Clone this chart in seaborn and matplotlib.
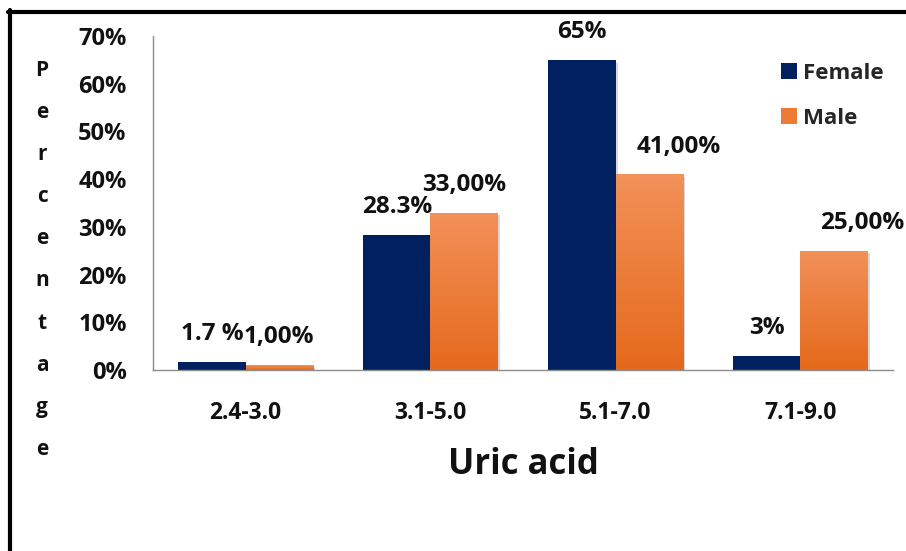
import numpy as np
import pandas as pd
import matplotlib
matplotlib.use("Agg")
import matplotlib.pyplot as plt
import matplotlib.patheffects as pe
from matplotlib.colors import LinearSegmentedColormap
from matplotlib.lines import Line2D
from matplotlib.patches import Patch
import seaborn as sns

# Uric acid ranges and the share of each sex falling in them (%)
categories = ["2.4-3.0", "3.1-5.0", "5.1-7.0", "7.1-9.0"]
female = [1.7, 28.3, 65, 3]
male = [1.0, 33.0, 41.0, 25.0]
female_labels = ["1.7 %", "28.3%", "65%", "3%"]
male_labels = ["1,00%", "33,00%", "41,00%", "25,00%"]
yticks = [0, 10, 20, 30, 40, 50, 60, 70]
series = ["Female", "Male"]

NAVY = "#002060"
ORANGE_TOP = "#F29159"
ORANGE_BOTTOM = "#E5691B"
FONT = "Open Sans"

sns.set_theme(style="white")
plt.rcParams["font.family"] = [FONT, "DejaVu Sans"]
plt.rcParams["font.weight"] = "bold"

df = pd.DataFrame({
    "range": categories * 2,
    "value": female + male,
    "sex": ["Female"] * len(categories) + ["Male"] * len(categories),
})

fig = plt.figure(figsize=(9.06, 5.51), dpi=100)
ax = fig.add_axes([153 / 906, 1 - 370 / 551, 740 / 906, 334 / 551])

sns.barplot(data=df, x="range", y="value", hue="sex", hue_order=series,
            palette=[NAVY, ORANGE_BOTTOM], width=0.725, saturation=1,
            errorbar=None, legend=False, ax=ax, zorder=2)

shadow = [pe.SimplePatchShadow(offset=(2, -2), shadow_rgbFace="#808080", alpha=0.3),
          pe.Normal()]
orange_cmap = LinearSegmentedColormap.from_list("male_grad", [ORANGE_BOTTOM, ORANGE_TOP])
grad = np.linspace(0, 1, 256).reshape(-1, 1)

female_bars, male_bars = ax.containers[0], ax.containers[1]
for bar in list(female_bars) + list(male_bars):
    bar.set_path_effects(shadow)
    bar.set_edgecolor("none")

# vertical light-to-dark gradient on the male bars
for bar in male_bars:
    x0, w, h = bar.get_x(), bar.get_width(), bar.get_height()
    im = ax.imshow(grad, extent=[x0, x0 + w, 0, h], origin="lower", aspect="auto",
                   cmap=orange_cmap, interpolation="bicubic", zorder=2.5)
    im.set_clip_path(bar)

# value labels above the bars
label_shift = {("Male", 2): 30, ("Male", 3): 28}
for name, bars, labels in (("Female", female_bars, female_labels),
                           ("Male", male_bars, male_labels)):
    for i, (bar, txt) in enumerate(zip(bars, labels)):
        cx = bar.get_x() + bar.get_width() / 2
        ax.annotate(txt, (cx, bar.get_height()),
                    xytext=(label_shift.get((name, i), 0) * 0.72, 20),
                    textcoords="offset points", ha="center", va="center",
                    fontsize=17.5, fontweight="bold", color="#111111",
                    annotation_clip=False, zorder=5)

ax.set_xlim(-0.5, 3.5)
ax.set_ylim(0, 70)
ax.set_yticks(yticks)
ax.set_yticklabels([f"{t}%" for t in yticks])
ax.tick_params(axis="y", length=0, pad=19, labelsize=17, labelcolor="#111111")
ax.tick_params(axis="x", length=0, pad=22, labelsize=16.5, labelcolor="#111111")
for lab in ax.get_xticklabels() + ax.get_yticklabels():
    lab.set_fontweight("bold")

for side in ("top", "right"):
    ax.spines[side].set_visible(False)
for side in ("left", "bottom"):
    ax.spines[side].set_color("#8c8c8c")
    ax.spines[side].set_linewidth(1.0)

ax.set_xlabel("Uric acid", fontsize=25, fontweight="bold", color="#111111", labelpad=16)
ax.set_ylabel("")

# y title written as a column of letters
for k, ch in enumerate("Percentage"):
    fig.text(42 / 906, 1 - (70 + 42.2 * k) / 551, ch, ha="center", va="center",
             fontsize=15, fontweight="bold", color="#111111")

handles = [Patch(facecolor=NAVY, edgecolor="none"),
           Patch(facecolor="#EE7B35", edgecolor="none")]
fig.legend(handles, series, loc="upper left", bbox_to_anchor=(765 / 906, 1 - 47 / 551),
           frameon=False, handlelength=0.72, handleheight=0.72, handletextpad=0.3,
           labelspacing=1.1, borderpad=0.2,
           prop={"family": FONT, "weight": "bold", "size": 16})

# frame lines along the top and left edges
fig.add_artist(Line2D([8 / 906, 1.0], [1 - 11.5 / 551, 1 - 11.5 / 551],
                      transform=fig.transFigure, color="black", linewidth=3))
fig.add_artist(Line2D([10 / 906, 10 / 906], [0, 1 - 10 / 551],
                      transform=fig.transFigure, color="black", linewidth=3))

fig.savefig("out.png", dpi=100)
